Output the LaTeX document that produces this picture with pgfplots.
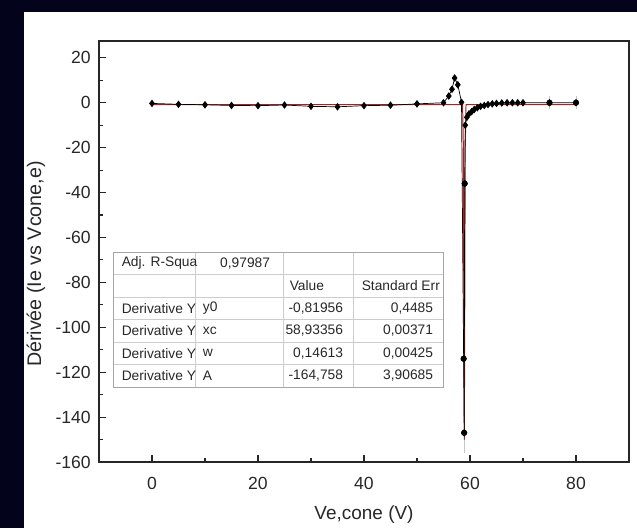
\documentclass[border=0pt]{standalone}
\usepackage{fontspec}
\setmainfont{Liberation Sans}
\usepackage{pgfplots}
\pgfplotsset{compat=1.18}

\definecolor{navy}{RGB}{3,3,28}
\definecolor{fitred}{RGB}{165,35,35}
\definecolor{cellg}{RGB}{205,205,205}
\definecolor{txtg}{RGB}{40,40,40}

\begin{document}
\begin{tikzpicture}
% page: 637 x 528 px at 0.025cm per px
\fill[navy] (0,0) rectangle (15.925,-13.2);
\fill[white] (0.6,-0.3) rectangle (15.925,-13.2);

\begin{axis}[
  at={(2.475cm,-11.55cm)}, anchor=south west,
  scale only axis, width=13.25cm, height=10.525cm,
  xmin=-10, xmax=90, ymin=-160, ymax=27.5,
  xtick={0,20,40,60,80}, ytick={-160,-140,...,20},
  minor x tick num=1, minor y tick num=1,
  tick pos=left, tick align=inside,
  major tick length=5pt, minor tick length=2.8pt,
  axis line style={black!85, line width=0.9pt},
  every tick/.style={black!85, line width=0.8pt},
  /pgf/number format/assume math mode=true,
  tick label style={font=\fontsize{12.5}{14}\selectfont, text=txtg, inner sep=0pt},
  xticklabel style={anchor=center, yshift=-15pt},
  yticklabel style={anchor=east, xshift=-5.7pt},
  xlabel={Ve,cone (V)},
  ylabel={Dérivée (Ie vs Vcone,e)},
  every axis x label/.style={at={(axis description cs:0.5,-0.125)}, anchor=center,
    font=\fontsize{13.5}{16}\selectfont, text=txtg},
  every axis y label/.style={at={(axis description cs:-0.119,0.47)}, anchor=center, rotate=90,
    font=\fontsize{14}{16}\selectfont, text=txtg},
]
% error bars near the spike and at the end points
\addplot[only marks, mark=none, error bars/.cd, y dir=both, y explicit,
  error bar style={gray!45, line width=0.6pt}, error mark=none]
  coordinates {(58.9,-147) +- (0,9) (58.8,-114) +- (0,8) (59.0,-36) +- (0,5)
               (75,0) +- (0,3) (80,0) +- (0,3)};
% fit curve
\addplot[fitred, line width=0.7pt] coordinates {
  (0,-0.82) (58.6,-0.82) (58.75,-20) (58.85,-100) (58.93,-150)
  (59.0,-100) (59.1,-20) (59.25,-0.82) (80,-0.82)};
% data
\addplot[black, line width=0.5pt, mark=diamond*, mark size=2.3pt] coordinates {
  (0,-0.3) (5,-0.7) (10,-0.9) (15,-1.2) (20,-1.3) (25,-1.0) (30,-1.6)
  (35,-1.8) (40,-1.3) (45,-1.1) (50,-0.5) (55,0.0) (56,3) (56.6,6)
  (57.1,11) (57.7,8) (58.4,0.2) (58.8,-114) (58.9,-147) (59.0,-36)
  (59.1,-10) (59.4,-6.5) (59.8,-5) (60.3,-4) (60.8,-3) (61.4,-2.2)
  (62,-1.6) (62.7,-1.2) (63.4,-0.8) (64.2,-0.5) (65,-0.3) (66,-0.1)
  (67,0) (68,0) (69,0) (70,0) (75,0) (80,0)};
\end{axis}

% fit results table
\begin{scope}[font=\fontsize{9.8}{11}\selectfont, text=txtg]
\fill[white] (2.825,-6.3) rectangle (11.075,-9.675);
\foreach \y in {-6.8625,-7.425,-7.9875,-8.55,-9.1125}
  \draw[cellg, line width=0.5pt] (2.825,\y) -- (11.075,\y);
\foreach \x in {4.875,7.075,8.825}
  \draw[cellg, line width=0.5pt] (\x,-6.3) -- (\x,-9.675);
\draw[gray!70, line width=0.6pt] (2.825,-6.3) rectangle (11.075,-9.675);

\node[anchor=west] at (2.92,-6.581) {Adj. R-Squa};
\node[anchor=east] at (6.875,-6.581) {0,97987};
\node[anchor=west] at (7.12,-7.144) {Value};
\node[anchor=west] at (8.92,-7.144) {Standard Err};

\node[anchor=west] at (2.92,-7.706) {Derivative Y};
\node[anchor=west] at (4.95,-7.706) {y0};
\node[anchor=east] at (8.7,-7.706) {-0,81956};
\node[anchor=east] at (10.95,-7.706) {0,4485};

\node[anchor=west] at (2.92,-8.269) {Derivative Y};
\node[anchor=west] at (4.95,-8.269) {xc};
\node[anchor=east] at (8.7,-8.269) {58,93356};
\node[anchor=east] at (10.95,-8.269) {0,00371};

\node[anchor=west] at (2.92,-8.831) {Derivative Y};
\node[anchor=west] at (4.95,-8.831) {w};
\node[anchor=east] at (8.7,-8.831) {0,14613};
\node[anchor=east] at (10.95,-8.831) {0,00425};

\node[anchor=west] at (2.92,-9.394) {Derivative Y};
\node[anchor=west] at (4.95,-9.394) {A};
\node[anchor=east] at (8.7,-9.394) {-164,758};
\node[anchor=east] at (10.95,-9.394) {3,90685};
\end{scope}
\end{tikzpicture}
\end{document}
